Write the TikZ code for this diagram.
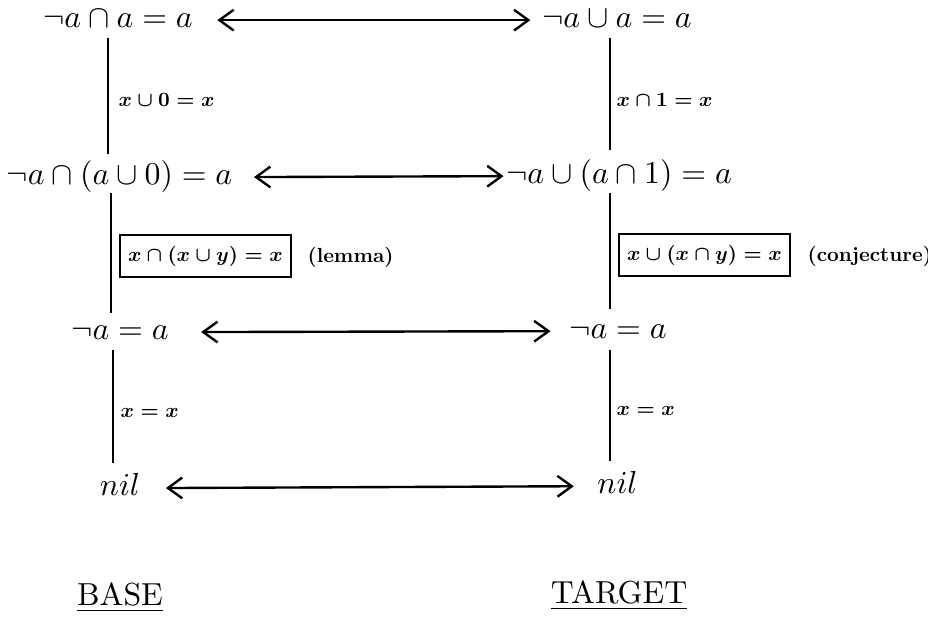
\documentclass[tikz,border=0pt]{standalone}
\usetikzlibrary{arrows.meta}
\newcommand\smalllab[1]{\scalebox{0.64}{\fontsize{10}{12}\selectfont\bfseries\boldmath #1}}
\begin{document}
\begin{tikzpicture}[x=0.314pt,y=-0.314pt,
  main/.style={inner sep=0pt,anchor=base,font=\fontsize{10}{12}\selectfont},
  lbl/.style={inner sep=0pt,anchor=west},
  boxed/.style={draw,line width=0.5pt,anchor=west,inner xsep=2.6pt,minimum height=12.2pt},
  vline/.style={line width=0.55pt},
  corr/.style={line width=0.75pt,{Straight Barb[length=4.5pt,width=6.5pt]}-{Straight Barb[length=4.5pt,width=6.5pt]}},
  ttl/.style={inner sep=0pt,anchor=base,font=\fontsize{10}{12}\selectfont}
  ]
\useasboundingbox (0,0) rectangle (928,616);

% main formula nodes
\node[main] (L1) at (118,27) {$\neg a\cap a=a$};
\node[main] (R1) at (617,27) {$\neg a\cup a=a$};
\node[main] (L2) at (119.5,184) {$\neg a\cap(a\cup 0)=a$};
\node[main] (R2) at (619,183) {$\neg a\cup(a\cap 1)=a$};
\node[main] (L3) at (120,339) {$\neg a=a$};
\node[main] (R3) at (618,338) {$\neg a=a$};
\node[main] (L4) at (120,495) {$nil$};
\node[main] (R4) at (617.5,493) {$nil$};

% titles
\node[ttl] (base) at (120,605) {\underline{BASE}};
\node[ttl] (target) at (619,603) {\underline{TARGET}};

% correspondence arrows
\draw[corr,shorten <=7.5pt,shorten >=3.5pt] (L1.mid east) -- (R1.mid west);
\draw[corr,shorten <=6.6pt,shorten >=0.6pt] (L2.mid east) -- (R2.mid west);
\draw[corr,shorten <=10pt,shorten >=5.7pt] (L3.mid east) -- (R3.mid west);
\draw[corr,shorten <=7.9pt,shorten >=7.2pt] (L4.mid east) -- (R4.mid west);

% vertical derivation lines
\coordinate (l1a) at (108,38);  \coordinate (l1b) at (108,154);
\coordinate (r1a) at (610,38);  \coordinate (r1b) at (610,150);
\coordinate (l2a) at (111,193); \coordinate (l2b) at (111,313);
\coordinate (r2a) at (610,193); \coordinate (r2b) at (610,309);
\coordinate (l3a) at (113,350); \coordinate (l3b) at (113,463);
\coordinate (r3a) at (610,350); \coordinate (r3b) at (610,461);
\draw[vline] (l1a) -- (l1b);
\draw[vline] (r1a) -- (r1b);
\draw[vline] (l2a) -- (l2b);
\draw[vline] (r2a) -- (r2b);
\draw[vline] (l3a) -- (l3b);
\draw[vline] (r3a) -- (r3b);

% labels
\node[lbl] (t1l) at (118,100) {\smalllab{$x\cup 0=x$}};
\node[lbl] (t1r) at (616,100) {\smalllab{$x\cap 1=x$}};
\node[boxed] (t2l) at (119,256) {\smalllab{$x\cap(x\cup y)=x$}};
\node[lbl] (lem) at (307,257) {\smalllab{(lemma)}};
\node[boxed] (t2r) at (618,255) {\smalllab{$x\cup(x\cap y)=x$}};
\node[lbl] (conj) at (807,256) {\smalllab{(conjecture)}};
\node[lbl] (t3l) at (120,413) {\smalllab{$x=x$}};
\node[lbl] (t3r) at (616,411) {\smalllab{$x=x$}};
\end{tikzpicture}
\end{document}
